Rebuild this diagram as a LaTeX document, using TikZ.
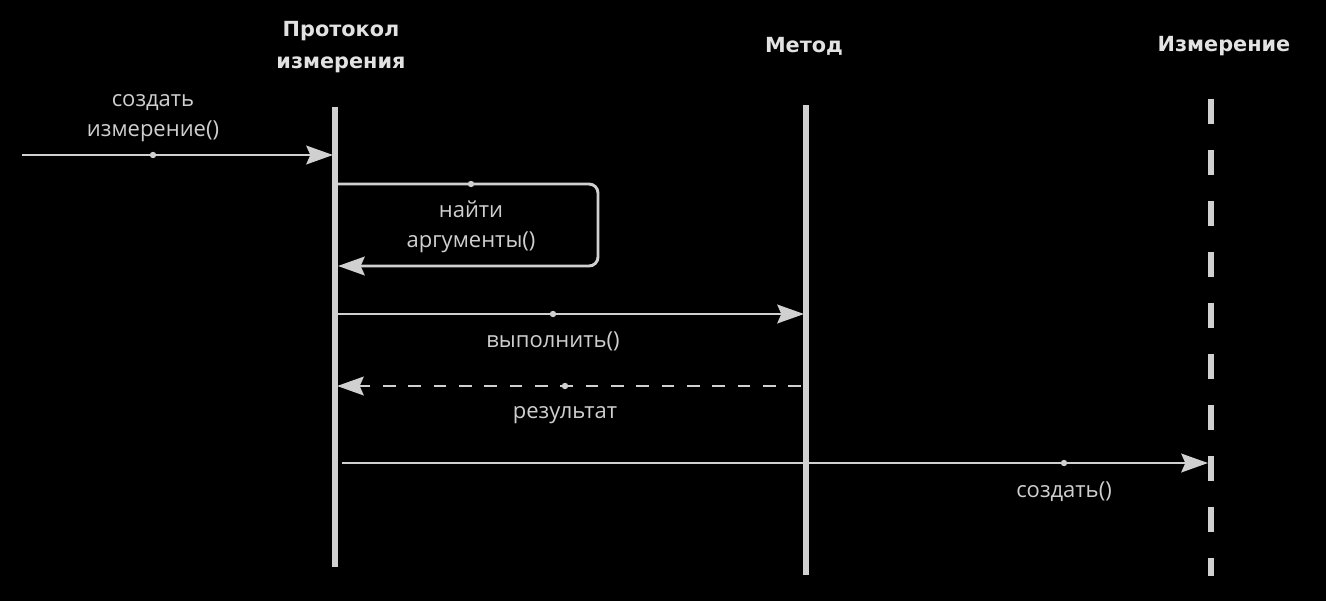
\documentclass[tikz,border=0pt]{standalone}
\usepackage{fontspec}
\setmainfont{Open Sans}
\newfontfamily\titlefont{DejaVu Sans}
\usetikzlibrary{arrows.meta}
\definecolor{fg}{HTML}{D0D0D0}
\definecolor{txt}{HTML}{CFCFCF}
\definecolor{ttl}{HTML}{E2E2E2}
\begin{document}
\begin{tikzpicture}[x=0.75pt,y=-0.75pt,
  lifeline/.style={draw=fg,line width=4.3pt},
  msg/.style={draw=fg,line width=2.2pt,-{Stealth[length=20pt,width=14pt,inset=3pt]}},
  retmsg/.style={msg,dash pattern=on 9.5pt off 9.5pt},
  dotmark/.style={circle,fill=fg,inner sep=0pt,minimum size=4.8pt},
  lbl/.style={text=txt,font=\fontsize{16.5}{22.5}\selectfont,align=center,inner sep=0pt},
  ttlnode/.style={text=ttl,font=\titlefont\bfseries\fontsize{15.6}{24}\selectfont,align=center,inner sep=0pt}]
\useasboundingbox[fill=black] (0,0) rectangle (1326,601);
% headers
\node[ttlnode] (h1) at (341,47) {Протокол\\измерения};
\node[ttlnode] (h2) at (804,46) {Метод};
\node[ttlnode] (h3) at (1224,46) {Измерение};
% lifelines
\coordinate (l1t) at (335,107); \coordinate (l1b) at (335,567);
\coordinate (l2t) at (806,105); \coordinate (l2b) at (806,575);
\coordinate (l3t) at (1211,99); \coordinate (l3b) at (1211,576);
\draw[lifeline] (l1t) -- (l1b);
\draw[lifeline] (l2t) -- (l2b);
\draw[draw=fg,line width=4.5pt,dash pattern=on 18.75pt off 19.5pt] (l3t) -- (l3b);
% message 1
\coordinate (m1s) at (22,155); \coordinate (m1e) at (333,155);
\draw[msg] (m1s) -- (m1e);
\node[dotmark] (d1) at (153,155) {};
\node[lbl] (t1) at (153,118) {создать\\измерение()};
% message 2 (self)
\coordinate (m2s) at (337,184); \coordinate (m2a) at (598,184);
\coordinate (m2b) at (598,266); \coordinate (m2e) at (338,266);
\draw[msg,rounded corners=6.75pt] (m2s) -- (m2a) -- (m2b) -- (m2e);
\node[dotmark] (d2) at (471,184) {};
\node[lbl] (t2) at (471,227) {найти\\аргументы()};
% message 3
\coordinate (m3s) at (337,314); \coordinate (m3e) at (804,314);
\draw[msg] (m3s) -- (m3e);
\node[dotmark] (d3) at (553,314) {};
\node[lbl] (t3) at (553,341) {выполнить()};
% message 4 (return)
\coordinate (m4s) at (801,386); \coordinate (m4e) at (337,386);
\draw[retmsg] (m4s) -- (m4e);
\node[dotmark] (d4) at (565,386) {};
\node[lbl] (t4) at (565,415) {результат};
% message 5
\coordinate (m5s) at (342,463); \coordinate (m5e) at (1208,463);
\draw[msg] (m5s) -- (m5e);
\node[dotmark] (d5) at (1064,463) {};
\node[lbl] (t5) at (1064,492) {создать()};
\end{tikzpicture}
\end{document}
